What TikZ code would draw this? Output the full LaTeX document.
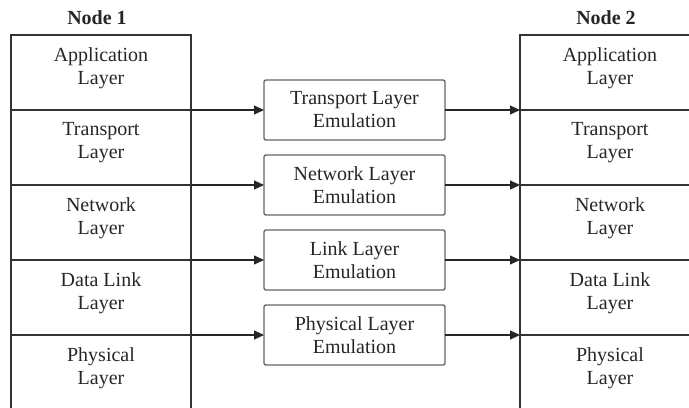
\documentclass[tikz,border=0pt]{standalone}
\usepackage{fontspec}
\setmainfont{Liberation Serif}
\usetikzlibrary{positioning, arrows.meta}

\begin{document}
\begin{tikzpicture}[x=0.5pt, y=-0.5pt,
    every node/.style={font=\fontsize{10}{11.5}\selectfont, text=black!85, outer sep=0pt, align=center},
    layer/.style={draw=black!80, line width=0.6pt, minimum width=90pt, minimum height=37.5pt},
    lyr/.style={yshift=2.25pt},
    nodelbl/.style={font=\fontsize{10}{11.5}\selectfont\bfseries, xshift=-2pt, yshift=1.7pt},
    emu/.style={draw=black!60, line width=0.7pt, rounded corners=1pt, minimum width=90.5pt, minimum height=30pt},
    arr/.style={line width=0.6pt, draw=black!85, -{Triangle[length=5pt,width=4.5pt]}}]
    \useasboundingbox (0,0) rectangle (689,407);
    \clip (0,0) rectangle (689,407);

    % pila del nodo 1
    \node[layer, label={[nodelbl]above:Node 1}, label={[lyr]center:{Application\\Layer}}] (a1) at (101,72.5) {};
    \node[layer, below=0pt of a1, label={[lyr]center:{Transport\\Layer}}] (a2) {};
    \node[layer, below=0pt of a2, label={[lyr]center:{Network\\Layer}}] (a3) {};
    \node[layer, below=0pt of a3, label={[lyr]center:{Data Link\\Layer}}] (a4) {};
    \node[layer, below=0pt of a4, label={[lyr]center:{Physical\\Layer}}] (a5) {};

    % pila del nodo 2
    \node[layer, label={[nodelbl]above:Node 2}, label={[lyr]center:{Application\\Layer}}] (b1) at (610,72.5) {};
    \node[layer, below=0pt of b1, label={[lyr]center:{Transport\\Layer}}] (b2) {};
    \node[layer, below=0pt of b2, label={[lyr]center:{Network\\Layer}}] (b3) {};
    \node[layer, below=0pt of b3, label={[lyr]center:{Data Link\\Layer}}] (b4) {};
    \node[layer, below=0pt of b4, label={[lyr]center:{Physical\\Layer}}] (b5) {};

    % emulacion
    \node[emu, right=36.5pt of a1.south east] (e1) {Transport Layer\\Emulation};
    \node[emu, below=7.5pt of e1] (e2) {Network Layer\\Emulation};
    \node[emu, below=7.5pt of e2] (e3) {Link Layer\\Emulation};
    \node[emu, below=7.5pt of e3] (e4) {Physical Layer\\Emulation};

    \draw[arr] (a1.south east) -- (e1);
    \draw[arr] (a2.south east) -- (e2);
    \draw[arr] (a3.south east) -- (e3);
    \draw[arr] (a4.south east) -- (e4);

    \draw[arr] (e1) -- (b1.south west);
    \draw[arr] (e2) -- (b2.south west);
    \draw[arr] (e3) -- (b3.south west);
    \draw[arr] (e4) -- (b4.south west);
\end{tikzpicture}
\end{document}
